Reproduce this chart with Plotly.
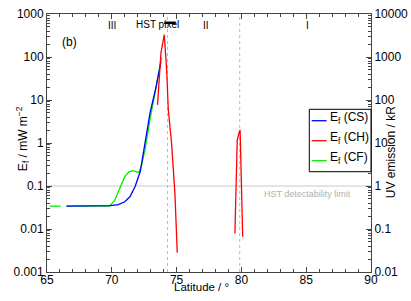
import numpy as np
import plotly.graph_objects as go

# ---- data ----
lat_cs = [66.5, 67.0, 68.0, 69.0, 69.9, 70.5, 71.0, 71.4, 71.8, 72.2, 72.6, 72.95, 73.4, 73.78]
ef_cs = [0.034, 0.034, 0.034, 0.034, 0.035, 0.037, 0.043, 0.056, 0.097, 0.22, 1.05, 5.0, 19, 75]

lat_ch = [73.53, 73.79, 74.05, 74.23, 74.36, 74.44, 74.61, 74.87, 75.05,
          None,
          79.50, 79.68, 79.84, 79.90, 80.10]
ef_ch = [7.7, 124, 330, 51, 5.9, 3.5, 1.0, 0.068, 0.0028,
         None,
         0.0079, 1.2, 1.8, 2.0, 0.0066]

lat_cf = [65.2, 66.05, None, 66.5, 68.0, 69.8, 70.2, 70.6, 71.0, 71.3, 71.6, 71.9, 72.1,
          72.3, 72.56, 72.95, 73.4, 73.83]
ef_cf = [0.034, 0.034, None, 0.034, 0.034, 0.034, 0.045, 0.09, 0.165, 0.21, 0.227, 0.215, 0.205,
         0.31, 0.69, 3.5, 20, 95]

series_names = ["E<sub>f</sub> (CS)", "E<sub>f</sub> (CH)", "E<sub>f</sub> (CF)"]
series_colors = ["#0000ff", "#ff0000", "#00ee00"]

x_ticks = [65, 70, 75, 80, 85, 90]
y_ticks = [0.001, 0.01, 0.1, 1, 10, 100, 1000]
y_ticktext = ["0.001", "0.01", "0.1", "1", "10", "100", "1000"]
y2_ticks = [0.01, 0.1, 1, 10, 100, 1000, 10000]
y2_ticktext = ["0.01", "0.1", "1", "10", "100", "1000", "10000"]

hst_limit = 0.1
regions = [("III", 70.0), ("II", 77.3), ("I", 85.1)]
region_bounds = [74.3, 79.87]
hst_pixel = [74.05, 74.93]

FONT = "Liberation Sans, Arial, Helvetica, sans-serif"
AX = "#444444"


def minor_log(lo, hi):
    return [k * 10.0 ** e for e in range(lo, hi) for k in range(2, 10)]


fig = go.Figure()
fig.add_trace(go.Scatter(x=lat_cf, y=ef_cf, mode="lines", name=series_names[2],
                         line=dict(color=series_colors[2], width=1.3), showlegend=False))
fig.add_trace(go.Scatter(x=lat_cs, y=ef_cs, mode="lines", name=series_names[0],
                         line=dict(color=series_colors[0], width=1.3), showlegend=False))
fig.add_trace(go.Scatter(x=lat_ch, y=ef_ch, mode="lines", name=series_names[1],
                         line=dict(color=series_colors[1], width=1.3), showlegend=False,
                         connectgaps=False))
# empty trace so that the right-hand (UV emission) axis is drawn
fig.add_trace(go.Scatter(x=[None], y=[None], yaxis="y2", mode="lines",
                         showlegend=False, hoverinfo="skip"))

shapes = [
    dict(type="line", xref="paper", x0=0, x1=1, yref="y", y0=hst_limit, y1=hst_limit,
         line=dict(color="#c8c8c8", width=1), layer="below"),
]
for b in region_bounds:
    shapes.append(dict(type="line", xref="x", x0=b, x1=b, yref="paper", y0=0, y1=1,
                       line=dict(color="#bbbbbb", width=1, dash="dot"), layer="below"))
shapes.append(dict(type="line", xref="x", x0=hst_pixel[0], x1=hst_pixel[1], yref="paper",
                   y0=0.966, y1=0.966, line=dict(color="black", width=2.5)))

# legend box (drawn by hand to match the compact original)
shapes.append(dict(type="rect", xref="paper", yref="paper", x0=0.8096, x1=1.0,
                   y0=0.3888, y1=0.6306, line=dict(color="black", width=1),
                   fillcolor="white"))
leg_line_y = [0.5864, 0.5089, 0.4314]
leg_text_y = [0.597, 0.519, 0.442]
for i in range(3):
    shapes.append(dict(type="line", xref="paper", yref="paper", x0=0.817, x1=0.863,
                       y0=leg_line_y[i], y1=leg_line_y[i],
                       line=dict(color=series_colors[i], width=1.3)))

annotations = [
    dict(text="(b)", xref="x", x=66.7, yref="paper", y=0.926, showarrow=False,
         font=dict(size=12)),
    dict(text="HST pixel", xref="x", x=73.56, yref="paper", y=0.988, showarrow=False,
         font=dict(size=10)),
    dict(text="HST detectability limit", xref="x", x=88.6, xanchor="right", yref="y",
         y=np.log10(hst_limit), yanchor="top", yshift=-1, showarrow=False,
         font=dict(size=9, color="#b0b0b0")),
    dict(text="E<sub>f</sub> / mW m<sup>−2</sup>", xref="paper", x=-0.108, yref="paper",
         y=0.515, textangle=-90, showarrow=False, font=dict(size=12)),
    dict(text="UV emission / kR", xref="paper", x=1.09, yref="paper", y=0.465,
         textangle=-90, showarrow=False, font=dict(size=12)),
    dict(text="Latitude / °", xref="paper", x=0.478, yref="paper", y=-0.09,
         showarrow=False, font=dict(size=11.5)),
]
for lab, lx in regions:
    annotations.append(dict(text=lab, xref="x", x=lx, yref="paper", y=0.986,
                            showarrow=False, font=dict(size=10)))
for i in range(3):
    annotations.append(dict(text=series_names[i], xref="paper", x=0.867, xanchor="left",
                            yref="paper", y=leg_text_y[i], yanchor="middle",
                            showarrow=False, font=dict(size=12)))

fig.update_layout(
    width=411, height=301,
    margin=dict(l=47, r=40, t=14, b=29),
    paper_bgcolor="white", plot_bgcolor="white",
    font=dict(family=FONT, size=12, color="black"),
    showlegend=False,
    xaxis=dict(range=[65, 90], tickmode="array", tickvals=x_ticks, ticks="inside",
               ticklen=5, tickcolor=AX, showline=True, linecolor=AX, linewidth=1,
               mirror="ticks", showgrid=False, zeroline=False, automargin=False,
               ticklabelstandoff=-3,
               minor=dict(ticks="inside", ticklen=3, dtick=1, tickcolor=AX, showgrid=False)),
    yaxis=dict(type="log", range=[-3, 3], tickmode="array", tickvals=y_ticks,
               ticktext=y_ticktext, ticks="inside", ticklen=5, tickcolor=AX,
               showline=True, linecolor=AX, linewidth=1, showgrid=False, zeroline=False,
               automargin=False,
               minor=dict(ticks="inside", ticklen=3, tickmode="array",
                          tickvals=minor_log(-3, 3), tickcolor=AX, showgrid=False)),
    yaxis2=dict(type="log", range=[-2, 4], overlaying="y", side="right", anchor="x",
                tickmode="array", tickvals=y2_ticks, ticktext=y2_ticktext,
                ticks="inside", ticklen=5, tickcolor=AX, showline=True, linecolor=AX,
                linewidth=1, showgrid=False, zeroline=False, automargin=False,
                minor=dict(ticks="inside", ticklen=3, tickmode="array",
                           tickvals=minor_log(-2, 4), tickcolor=AX, showgrid=False)),
    shapes=shapes,
    annotations=annotations,
)

fig.write_html("out.html", config={"displayModeBar": False},
               post_script="document.body.style.margin='0px';")
